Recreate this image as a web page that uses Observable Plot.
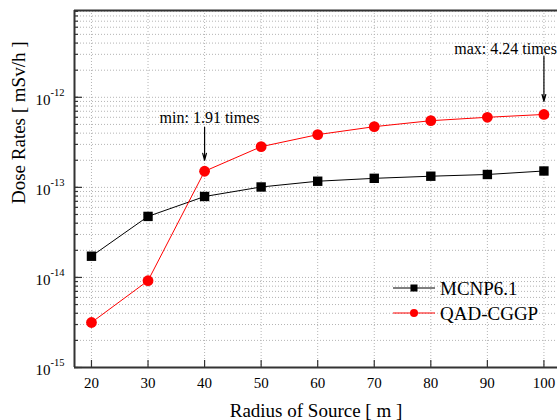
<!DOCTYPE html>
<html><head><meta charset="utf-8">
<script src="https://cdn.jsdelivr.net/npm/d3@7"></script>
<script src="https://cdn.jsdelivr.net/npm/@observablehq/plot@0.6"></script>
<style>
body{margin:0;background:#fff;}
#chart{position:relative;width:557px;height:420px;overflow:hidden;}
</style></head><body><div id="chart"></div>
<script>
// ---- data ----
const radius = [20, 30, 40, 50, 60, 70, 80, 90, 100];
const mcnp = [1.72e-14, 4.76e-14, 7.92e-14, 1.01e-13, 1.17e-13, 1.26e-13, 1.33e-13, 1.39e-13, 1.52e-13];
const qad  = [3.16e-15, 9.2e-15, 1.51e-13, 2.83e-13, 3.85e-13, 4.72e-13, 5.5e-13, 6.0e-13, 6.45e-13];
const seriesNames = ["MCNP6.1", "QAD-CGGP"];
const xTicks = [20, 30, 40, 50, 60, 70, 80, 90, 100];
const yMajor = [1e-15, 1e-14, 1e-13, 1e-12];
const yExponents = ["-15", "-14", "-13", "-12"];
const annotationLabels = ["min: 1.91 times", "max: 4.24 times"];
const annotationX = [40, 100];
const xTitle = "Radius of Source [ m ]";
const yTitle = "Dose Rates [ mSv/h ]";

// ---- derived tables ----
const rows = radius.flatMap((r, i) => [
  {r, v: mcnp[i], s: seriesNames[0]},
  {r, v: qad[i], s: seriesNames[1]}
]);
const mcnpRows = rows.filter(d => d.s === seriesNames[0]);
const qadRows = rows.filter(d => d.s === seriesNames[1]);
const yTop = 9.2e-12;
const yMinor = [];
for (let k = -15; k <= -12; k++) for (let m = 1; m <= 9; m++) {
  const v = m * Math.pow(10, k);
  if (v <= yTop * 1.0001) yMinor.push(+v.toPrecision(3));
}
const annotations = annotationLabels.map((label, i) => ({
  label, x: annotationX[i], y: qad[radius.indexOf(annotationX[i])]
}));
const pxPerDecade = 90;
const up = (v, px) => v * Math.pow(10, px / pxPerDecade);
const arrowStart = [44, 58], arrowTip = [11, 13], labelLift = [53, 66];

const F = "'Liberation Serif', 'Times New Roman', serif";
const AX = "#333";

const plot = Plot.plot({
  width: 557, height: 420,
  marginLeft: 74, marginRight: 0, marginTop: 10, marginBottom: 53,
  style: {fontFamily: F, color: "#000", background: "#fff", overflow: "visible"},
  x: {domain: [17, 102.4]},
  y: {type: "log", domain: [1e-15, yTop]},
  marks: [
    Plot.gridY(yMinor, {stroke: "#b4b4b4", strokeOpacity: 1, strokeDasharray: "1,2"}),
    Plot.gridX(xTicks, {stroke: "#b4b4b4", strokeOpacity: 1, strokeDasharray: "1,2"}),
    // axes
    Plot.axisY(yMinor, {tickSize: -4, tickFormat: () => "", stroke: AX, strokeWidth: 1.2, label: null}),
    Plot.axisY(yMajor, {tickSize: -8, tickFormat: () => "", stroke: AX, strokeWidth: 1.2, label: null}),
    Plot.axisX(xTicks, {tickSize: -7, tickFormat: () => "", stroke: AX, strokeWidth: 1.2, label: null}),
    Plot.axisX(xTicks, {tickSize: 0, tickPadding: 10, fontSize: 15, fill: "#000", label: null}),
    Plot.ruleX([17], {stroke: AX, strokeWidth: 2}),
    Plot.ruleY([1e-15], {stroke: AX, strokeWidth: 2}),
    Plot.ruleY([yTop], {stroke: AX, strokeWidth: 2}),
    // y tick labels 10^k
    Plot.text(yMajor, {y: d => d, text: () => "10", frameAnchor: "left", textAnchor: "end", dx: -24, dy: 3, fontSize: 15, fill: "#000"}),
    Plot.text(yMajor, {y: d => d, text: (d, i) => yExponents[i], frameAnchor: "left", textAnchor: "start", dx: -24, dy: -5, fontSize: 10.5, fill: "#000"}),
    // titles
    Plot.text([xTitle], {frameAnchor: "bottom", dy: 43, fontSize: 19, fill: "#000", lineAnchor: "middle"}),
    Plot.text([yTitle], {frameAnchor: "left", rotate: -90, dx: -56, dy: 15, fontSize: 19, fill: "#000", lineAnchor: "middle"}),
    // series
    Plot.line(mcnpRows, {x: "r", y: "v", stroke: "#000", strokeWidth: 1}),
    Plot.line(qadRows, {x: "r", y: "v", stroke: "#ff0000", strokeWidth: 1}),
    Plot.dot(mcnpRows, {x: "r", y: "v", symbol: "square", r: 5.3, fill: "#000", stroke: "none"}),
    Plot.dot(qadRows, {x: "r", y: "v", symbol: "circle", r: 5.4, fill: "#ff0000", stroke: "none"}),
    // annotations
    Plot.arrow(annotations, {
      x1: "x", x2: "x",
      y1: (d, i) => up(d.y, arrowStart[i]), y2: (d, i) => up(d.y, arrowTip[i]),
      stroke: "#000", strokeWidth: 1.2, headLength: 9, headAngle: 30
    }),
    Plot.text(annotations.slice(0, 1), {
      x: "x", y: d => up(d.y, labelLift[0]), text: "label",
      textAnchor: "middle", dx: 5, fontSize: 16, fill: "#000", lineAnchor: "middle"
    }),
    Plot.text(annotations.slice(1, 2), {
      x: "x", y: d => up(d.y, labelLift[1]), text: "label",
      textAnchor: "end", dx: 13, fontSize: 16, fill: "#000", lineAnchor: "middle"
    })
  ]
});

document.getElementById("chart").appendChild(plot);

// legend
const svg = d3.select(plot);
const leg = svg.append("g").attr("font-family", F).attr("font-size", 19).attr("text-anchor", "start");
const legItems = [
  {name: seriesNames[0], color: "#000", shape: "square"},
  {name: seriesNames[1], color: "#ff0000", shape: "circle"}
];
legItems.forEach((it, i) => {
  const y = 288 + i * 25;
  const g = leg.append("g").attr("transform", `translate(0,${y})`);
  g.append("line").attr("x1", 393).attr("x2", 435).attr("y1", 0).attr("y2", 0).attr("stroke", it.color).attr("stroke-width", 1);
  if (it.shape === "square") g.append("rect").attr("x", 410.5).attr("y", -3.5).attr("width", 7).attr("height", 7).attr("fill", it.color);
  else g.append("circle").attr("cx", 414).attr("cy", 0).attr("r", 4).attr("fill", it.color);
  g.append("text").attr("x", 440).attr("y", 0).attr("dy", "0.35em").attr("text-anchor", "start").attr("fill", "#000").text(it.name);
});
</script>
</body></html>
